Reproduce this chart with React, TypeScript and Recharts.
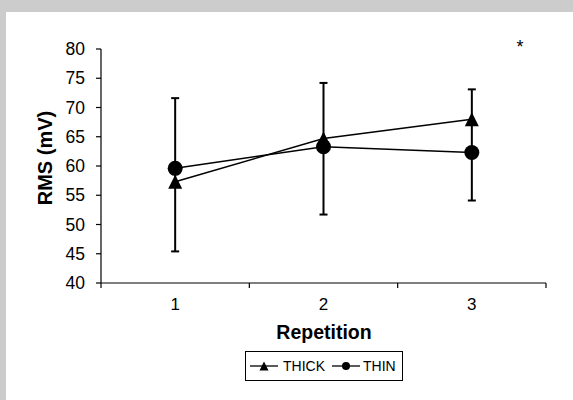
import React from "react";
import { LineChart, Line, XAxis, YAxis, ErrorBar, Customized } from "recharts";

const reps = [1, 2, 3];
const thick = [57.3, 64.7, 68.0];
const thin = [59.6, 63.3, 62.3];
const errHigh = [71.6, 74.2, 73.1];
const errLow = [45.4, 51.7, 54.1];
const seriesNames = ["THICK", "THIN"];
const yTicks = [40, 45, 50, 55, 60, 65, 70, 75, 80];
const xTicks = [0.5, 1, 1.5, 2, 2.5, 3, 3.5];

const data = reps.map((r, i) => ({
	rep: r,
	thick: thick[i],
	thin: thin[i],
	err: [thick[i] - errLow[i], errHigh[i] - thick[i]],
}));

const FONT = '"Liberation Sans", Arial, sans-serif';

const Triangle = (props: any) => {
	const { cx, cy, size = 7 } = props;
	if (cx == null || cy == null) return null;
	return (
		<polygon
			points={`${cx},${cy - size} ${cx - size},${cy + size} ${cx + size},${cy + size}`}
			fill="#000"
		/>
	);
};

const XTick = (props: any) => {
	const { x, y, payload } = props;
	const v = payload.value;
	if (Number.isInteger(v)) {
		return (
			<text x={x} y={y + 27} textAnchor="middle" fontSize={17} fontFamily={FONT} fill="#000">
				{v}
			</text>
		);
	}
	return <line x1={x} y1={y} x2={x} y2={y + 5} stroke="#000" strokeWidth={1.2} />;
};

const Extras = () => (
	<g fontFamily={FONT} fill="#000">
		<text x={520} y={53} textAnchor="middle" fontSize={18}>
			*
		</text>
		<text x={324} y={339} textAnchor="middle" fontSize={19.5} fontWeight="bold">
			Repetition
		</text>
		<text
			x={52}
			y={158}
			textAnchor="middle"
			fontSize={20}
			fontWeight="bold"
			transform="rotate(-90 52 158)"
		>
			RMS (mV)
		</text>
		<rect x={245.5} y={351.5} width={157} height={29} fill="#fff" stroke="#000" strokeWidth={1} />
		<line x1={250} y1={366} x2={278} y2={366} stroke="#000" strokeWidth={1.3} />
		<Triangle cx={264} cy={366} size={4.5} />
		<text x={283} y={371} fontSize={14}>
			{seriesNames[0]}
		</text>
		<line x1={332} y1={366} x2={360} y2={366} stroke="#000" strokeWidth={1.3} />
		<circle cx={346} cy={366} r={4} fill="#000" />
		<text x={363} y={371} fontSize={14}>
			{seriesNames[1]}
		</text>
	</g>
);

export default function App() {
	return (
		<div
			style={{
				position: "fixed",
				left: 0,
				top: 0,
				width: 573,
				height: 400,
				background: "#cccccc",
				overflow: "hidden",
				fontFamily: FONT,
			}}
		>
			<div style={{ position: "absolute", left: 6, top: 12, right: 0, bottom: 0, background: "#fff" }} />
			<div style={{ position: "absolute", left: 0, top: 0 }}>
				<LineChart width={573} height={400} data={data} margin={{ top: 49, right: 27, left: 41, bottom: 87 }}>
					<XAxis
						dataKey="rep"
						type="number"
						domain={[0.5, 3.5]}
						ticks={xTicks}
						interval={0}
						tickLine={false}
						tickSize={0}
						tickMargin={0}
						height={30}
						axisLine={{ stroke: "#000", strokeWidth: 1.2 }}
						tick={<XTick />}
					/>
					<YAxis
						domain={[40, 80]}
						ticks={yTicks}
						interval={0}
						width={60}
						tickSize={5}
						tickMargin={11}
						axisLine={{ stroke: "#000", strokeWidth: 1.2 }}
						tickLine={{ stroke: "#000", strokeWidth: 1.2 }}
						tick={{ fill: "#000", fontSize: 17.5, fontFamily: FONT }}
					/>
					<Line
						dataKey="thick"
						name={seriesNames[0]}
						stroke="#000"
						strokeWidth={1.5}
						dot={<Triangle size={7} />}
						isAnimationActive={false}
					>
						<ErrorBar dataKey="err" direction="y" width={4} stroke="#000" strokeWidth={2} />
					</Line>
					<Line
						dataKey="thin"
						name={seriesNames[1]}
						stroke="#000"
						strokeWidth={1.5}
						dot={{ r: 7.5, fill: "#000", stroke: "none" }}
						isAnimationActive={false}
					/>
					<Customized component={Extras} />
				</LineChart>
			</div>
		</div>
	);
}
